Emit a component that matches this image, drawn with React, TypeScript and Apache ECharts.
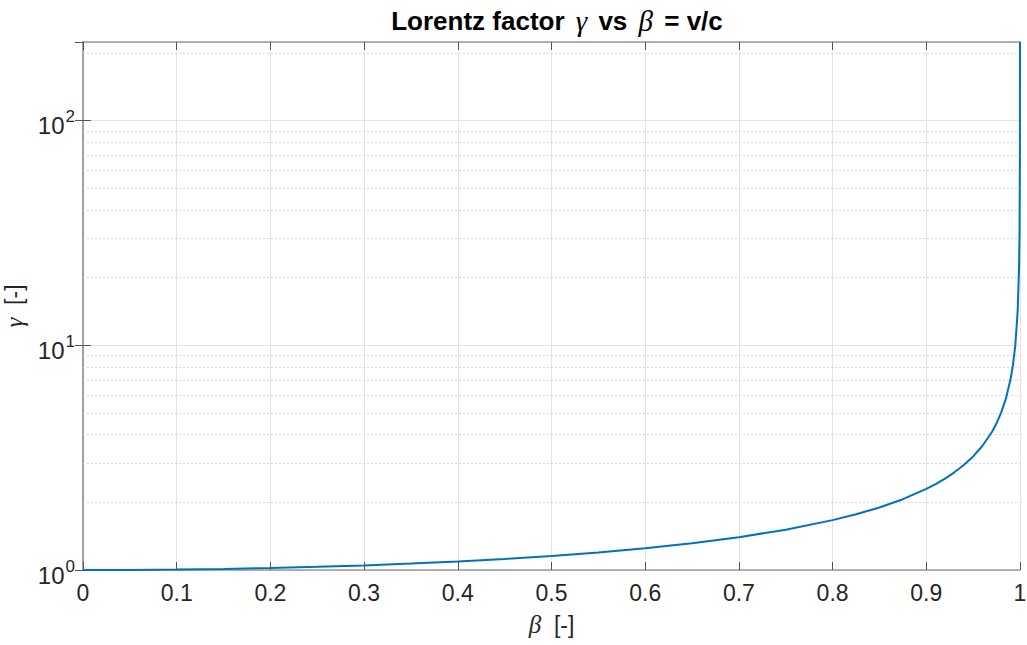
import React, { useEffect, useRef } from "react";
import * as echarts from "echarts";

const betaValues = [
  0, 0.05, 0.1, 0.15, 0.2, 0.25, 0.3, 0.35, 0.4, 0.45, 0.5, 0.55, 0.6, 0.65, 0.7,
  0.75, 0.8, 0.825, 0.85, 0.875, 0.9, 0.91, 0.92, 0.93, 0.94, 0.95, 0.96, 0.97,
  0.975, 0.98, 0.985, 0.99, 0.9925, 0.995, 0.9975, 0.999, 0.9995, 0.9999, 0.99999,
];
const gammaValues = [
  1, 1.00125, 1.00504, 1.01144, 1.02062, 1.03280, 1.04828, 1.06752, 1.09109,
  1.11979, 1.15470, 1.19737, 1.25, 1.31590, 1.40028, 1.51186, 1.66667, 1.76930,
  1.89832, 2.06559, 2.29416, 2.41185, 2.55155, 2.72064, 2.93105, 3.20256, 3.57143,
  4.11345, 4.50035, 5.02519, 5.80255, 7.08881, 8.18030, 10.01252, 14.15108,
  22.36627, 31.62673, 70.71245, 223.60735,
];
const yMinorGrid = [2, 3, 4, 5, 6, 7, 8, 9, 20, 30, 40, 50, 60, 70, 80, 90, 200];
const yMin = 1;
const yMax = 223.60735;

const FONT = "'Liberation Sans', Arial, Helvetica, sans-serif";
const SERIF = "'Liberation Serif', 'DejaVu Serif', serif";
const AXIS_COLOR = "#9a9a9a";
const TEXT_COLOR = "#262626";

export default function App() {
  const ref = useRef<HTMLDivElement>(null);
  useEffect(() => {
    if (!ref.current) return;
    const chart = echarts.init(ref.current, null, { renderer: "svg" });
    const expLabel = (v: number) => {
      const e = Math.round(Math.log10(v));
      return `{b|10}{e|${e}}`;
    };
    chart.setOption({
      animation: false,
      backgroundColor: "#ffffff",
      title: {
        text: "{t|Lorentz factor }{g|γ}{t| vs }{g|β}{t| = v/c}",
        left: 552,
        textAlign: "center",
        top: 1,
        textStyle: {
          fontWeight: "normal",
          rich: {
            t: { fontFamily: FONT, fontWeight: "bold", fontSize: 26, color: "#000" },
            g: { fontFamily: SERIF, fontStyle: "italic", fontWeight: "normal", fontSize: 29, color: "#000", padding: [0, 4, 0, 4] },
          },
        },
      },
      grid: { left: 83, right: 7, top: 42, bottom: 75, containLabel: false, outerBoundsMode: "none" },
      xAxis: [
        {
          type: "value",
          min: 0,
          max: 1,
          interval: 0.1,
          position: "bottom",
          name: "{g|β}{t|  [-]}",
          nameLocation: "middle",
          nameGap: 42,
          nameTextStyle: {
            rich: {
              g: { fontFamily: SERIF, fontStyle: "italic", fontSize: 25, color: TEXT_COLOR },
              t: { fontFamily: FONT, fontSize: 23, color: TEXT_COLOR },
            },
          },
          axisLine: { show: true, lineStyle: { color: AXIS_COLOR, width: 1.5 } },
          axisTick: { show: true, inside: true, length: 8, lineStyle: { color: "#555" } },
          axisLabel: {
            fontFamily: FONT,
            fontSize: 23,
            color: TEXT_COLOR,
            margin: 11,
            formatter: (v: number) => String(Math.round(v * 10) / 10),
          },
          splitLine: { show: true, lineStyle: { color: "#e3e3e3", width: 1 } },
        },
        {
          type: "value",
          min: 0,
          max: 1,
          interval: 0.1,
          position: "top",
          axisLine: { show: true, lineStyle: { color: AXIS_COLOR, width: 1.5 } },
          axisTick: { show: true, inside: true, length: 8, lineStyle: { color: "#555" } },
          axisLabel: { show: false },
          splitLine: { show: false },
        },
      ],
      yAxis: [
        {
          type: "log",
          logBase: 10,
          min: yMin,
          max: yMax,
          position: "left",
          name: "{g|γ}{t|  [-]}",
          nameLocation: "middle",
          nameGap: 48,
          nameRotate: 90,
          nameTextStyle: {
            rich: {
              g: { fontFamily: SERIF, fontStyle: "italic", fontSize: 25, color: TEXT_COLOR },
              t: { fontFamily: FONT, fontSize: 23, color: TEXT_COLOR },
            },
          },
          axisLine: { show: true, lineStyle: { color: AXIS_COLOR, width: 1.5 } },
          axisTick: { show: true, inside: true, length: 8, lineStyle: { color: "#555" } },
          axisLabel: {
            margin: 8,
            showMaxLabel: false,
            formatter: (v: number) => expLabel(v),
            rich: {
              b: { fontFamily: FONT, fontSize: 24, color: TEXT_COLOR, padding: [10, 0, 0, 0] },
              e: { fontFamily: FONT, fontSize: 17, color: TEXT_COLOR, padding: [0, 0, 8, 1] },
            },
          },
          splitLine: { show: true, lineStyle: { color: "#e3e3e3", width: 1 } },
        },
        {
          type: "log",
          logBase: 10,
          min: yMin,
          max: yMax,
          position: "right",
          axisLine: { show: true, lineStyle: { color: AXIS_COLOR, width: 1.5 } },
          axisTick: { show: true, inside: true, length: 8, lineStyle: { color: "#555" } },
          axisLabel: { show: false },
          splitLine: { show: false },
        },
      ],
      series: [
        {
          type: "line",
          xAxisIndex: 0,
          yAxisIndex: 0,
          data: betaValues.map((b, i) => [b, gammaValues[i]]),
          showSymbol: false,
          smooth: false,
          lineStyle: { color: "#0072BD", width: 2 },
          z: 5,
          markLine: {
            silent: true,
            symbol: "none",
            label: { show: false },
            lineStyle: { color: "#d9d9d9", type: [2, 2], width: 1 },
            data: yMinorGrid.map((v) => ({ yAxis: v })),
            z: 1,
          },
        },
      ],
    });
    return () => chart.dispose();
  }, []);
  return <div ref={ref} style={{ width: 1027, height: 645, position: "absolute", left: 0, top: 0 }} />;
}
